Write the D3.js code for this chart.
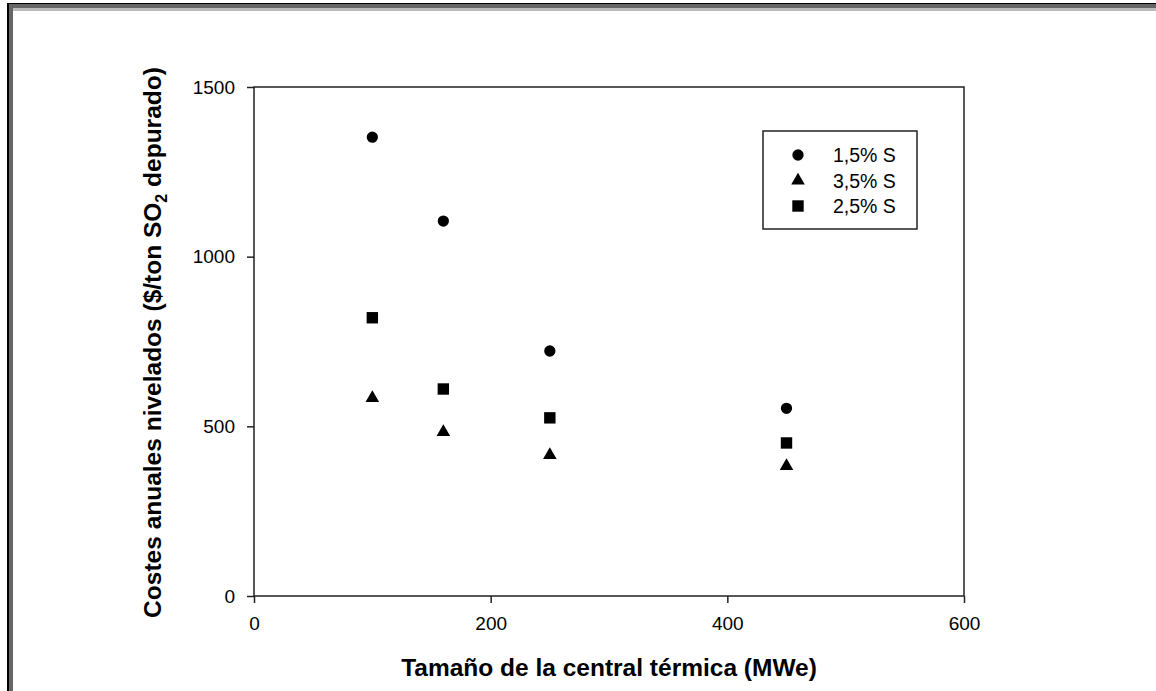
<!DOCTYPE html>
<html>
<head>
<meta charset="utf-8">
<script src="https://cdn.jsdelivr.net/npm/d3@7"></script>
<style>
body{margin:0;background:#fff;}
svg{display:block;font-family:Arial,"Liberation Sans",sans-serif;}
</style>
</head>
<body>
<div id="main"></div>
<script>
// data
var sizes=[100,160,250,450];
var s15=[1352,1105,722,553];
var s35=[583,483,415,383];
var s25=[820,610,525,451];
var series=[
  {name:'1,5% S',shape:'circle',values:s15},
  {name:'3,5% S',shape:'triangle',values:s35},
  {name:'2,5% S',shape:'square',values:s25}
];
var xTicks=[0,200,400,600];
var yTicks=[0,500,1000,1500];

var W=1156,H=691;
var pL=254,pT=87,pR=964,pB=596;

var svg=d3.select('#main')
  .append('svg')
    .attr('width',W)
    .attr('height',H);

// window frame
svg.append('rect').attr('x',7).attr('y',3).attr('width',W-7).attr('height',1.5).attr('fill','#000');
svg.append('rect').attr('x',7).attr('y',4).attr('width',W-7).attr('height',4).attr('fill','#666');
svg.append('rect').attr('x',12).attr('y',8).attr('width',W-12).attr('height',3).attr('fill','#bbb');
svg.append('rect').attr('x',7).attr('y',3).attr('width',2).attr('height',H).attr('fill','#000');
svg.append('rect').attr('x',9).attr('y',4).attr('width',4).attr('height',H).attr('fill','#666');

var x=d3.scaleLinear().domain([0,600]).range([pL,pR]);
var y=d3.scaleLinear().domain([0,1500]).range([pB,pT]);

// plot box
svg.append('rect')
  .attr('x',pL).attr('y',pT)
  .attr('width',pR-pL).attr('height',pB-pT)
  .attr('fill','none').attr('stroke','#222').attr('stroke-width',1.5);

var xAxis=svg.append('g')
  .attr('transform','translate(0,'+pB+')')
  .call(d3.axisBottom(x).tickValues(xTicks).tickSize(7).tickPadding(14).tickFormat(d3.format('d')));
var yAxis=svg.append('g')
  .attr('transform','translate('+pL+',0)')
  .call(d3.axisLeft(y).tickValues(yTicks).tickSize(7).tickPadding(12).tickFormat(d3.format('d')));
[xAxis,yAxis].forEach(function(a){
  a.select('.domain').remove();
  a.selectAll('line').attr('stroke','#222').attr('stroke-width',1.5);
  a.selectAll('text').attr('font-size',19).attr('fill','#000').style('font-family','Arial,"Liberation Sans",sans-serif');
});

var sym={
  circle:d3.symbol().type(d3.symbolCircle).size(100),
  triangle:d3.symbol().type(d3.symbolTriangle).size(80),
  square:d3.symbol().type(d3.symbolSquare).size(130)
};

series.forEach(function(s){
  svg.append('g').selectAll('path')
    .data(s.values)
  .enter().append('path')
    .attr('d',sym[s.shape])
    .attr('transform',function(d,i){return 'translate('+x(sizes[i])+','+y(d)+')'})
    .attr('fill','#000');
});

// legend
var lg=svg.append('g');
lg.append('rect').attr('x',763).attr('y',131).attr('width',154).attr('height',98)
  .attr('fill','#fff').attr('stroke','#222').attr('stroke-width',1.5);
series.forEach(function(s,i){
  var yy=155+i*25.5;
  lg.append('path').attr('d',sym[s.shape]).attr('transform','translate(798,'+yy+')').attr('fill','#000');
  lg.append('text').attr('x',833).attr('y',yy).attr('dy','0.36em')
    .attr('font-size',19.5).text(s.name);
});

// axis titles
svg.append('text')
  .attr('x',(pL+pR)/2).attr('y',676)
  .attr('text-anchor','middle').attr('font-weight','bold').attr('font-size',24.5)
  .text('Tamaño de la central térmica (MWe)');

var yt=svg.append('text')
  .attr('transform','translate(161,'+((pT+pB)/2+1)+') rotate(-90)')
  .attr('text-anchor','middle').attr('font-weight','bold').attr('font-size',24.5);
yt.append('tspan').text('Costes anuales nivelados ($/ton SO');
yt.append('tspan').attr('font-size',16).attr('dy',6).text('2');
yt.append('tspan').attr('dy',-6).text(' depurado)');
</script>
</body>
</html>
